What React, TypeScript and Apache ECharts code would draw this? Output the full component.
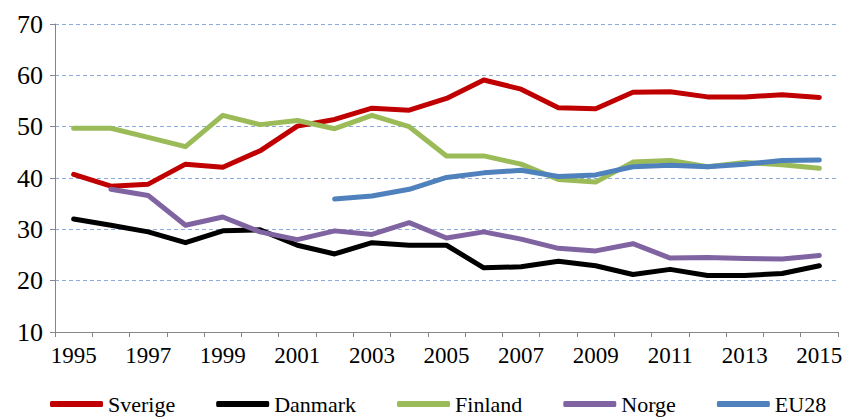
import React, { useEffect, useRef } from "react";
import * as echarts from "echarts";

const years = ["1995","1996","1997","1998","1999","2000","2001","2002","2003","2004","2005","2006","2007","2008","2009","2010","2011","2012","2013","2014","2015"];
const sverige = [40.7, 38.4, 38.8, 42.7, 42.1, 45.3, 50.1, 51.4, 53.6, 53.2, 55.5, 59.1, 57.3, 53.7, 53.5, 56.7, 56.8, 55.8, 55.8, 56.2, 55.7];
const danmark = [32.0, 30.8, 29.5, 27.4, 29.7, 29.9, 26.9, 25.2, 27.4, 26.9, 26.9, 22.5, 22.7, 23.8, 22.9, 21.2, 22.2, 21.0, 21.0, 21.4, 22.9];
const finland = [49.7, 49.7, 47.9, 46.1, 52.2, 50.4, 51.2, 49.6, 52.2, 50.0, 44.3, 44.3, 42.7, 39.7, 39.2, 43.1, 43.4, 42.2, 43.0, 42.6, 41.9];
const norge = [null, 37.8, 36.6, 30.8, 32.4, 29.5, 28.0, 29.7, 29.0, 31.3, 28.3, 29.5, 28.1, 26.3, 25.8, 27.2, 24.4, 24.5, 24.3, 24.2, 24.9];
const eu28 = [null, null, null, null, null, null, null, 35.9, 36.5, 37.8, 40.1, 41.0, 41.5, 40.3, 40.6, 42.2, 42.5, 42.2, 42.7, 43.4, 43.5];

const FONT = '"Liberation Serif", "Times New Roman", serif';

export default function App() {
  const ref = useRef<HTMLDivElement>(null);
  useEffect(() => {
    if (!ref.current) return;
    const chart = echarts.init(ref.current, undefined, { renderer: "svg" });
    const mk = (name: string, data: (number | null)[], color: string) => ({
      name,
      type: "line",
      data,
      showSymbol: false,
      symbol: "none",
      connectNulls: false,
      lineStyle: { width: 5, color, cap: "round", join: "round" },
      itemStyle: { color },
    });
    chart.setOption({
      animation: false,
      backgroundColor: "#ffffff",
      grid: { left: 55, right: 9, top: 24, bottom: 86 },
      legend: {
        show: true,
        left: 50,
        top: 392,
        padding: 0,
        icon: "roundRect",
        itemWidth: 53,
        itemHeight: 6,
        itemGap: 41,
        textStyle: { fontFamily: FONT, fontSize: 22, color: "#000", lineHeight: 24 },
        data: ["Sverige", "Danmark", "Finland", "Norge", "EU28"],
      },
      xAxis: {
        type: "category",
        data: years,
        boundaryGap: true,
        axisLine: { show: true, lineStyle: { color: "#868686", width: 1 } },
        axisTick: { show: true, interval: 0, alignWithLabel: false, length: 5, lineStyle: { color: "#868686" } },
        axisLabel: { interval: 1, fontFamily: FONT, fontSize: 23, color: "#000", margin: 12 },
        splitLine: { show: false },
      },
      yAxis: {
        type: "value",
        min: 10,
        max: 70,
        interval: 10,
        axisLine: { show: true, lineStyle: { color: "#868686", width: 1 } },
        axisTick: { show: true, length: 5, lineStyle: { color: "#868686" } },
        axisLabel: { fontFamily: FONT, fontSize: 26, color: "#000", margin: 12 },
        splitLine: { show: true, lineStyle: { color: "#8EAADB", width: 1.2, type: [4, 3] } },
      },
      series: [
        mk("Sverige", sverige, "#C00000"),
        mk("Danmark", danmark, "#000000"),
        mk("Finland", finland, "#9BBB59"),
        mk("Norge", norge, "#8064A2"),
        mk("EU28", eu28, "#4F81BD"),
      ],
    });
    return () => chart.dispose();
  }, []);
  return (
    <div
      ref={ref}
      style={{ position: "fixed", left: 0, top: 0, width: 847, height: 418, background: "#fff" }}
    />
  );
}
